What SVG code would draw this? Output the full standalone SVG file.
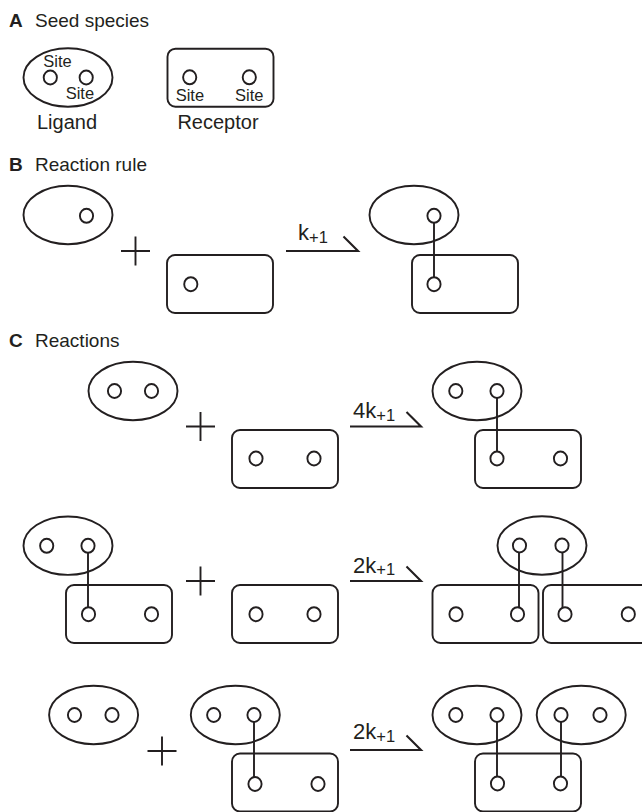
<svg xmlns="http://www.w3.org/2000/svg" width="642" height="812" viewBox="0 0 642 812">
<style>
  .shape { fill: none; stroke: #231f20; stroke-width: 1.9; }
  .site { fill: #ffffff; stroke: #231f20; stroke-width: 1.9; }
  .bond { fill: none; stroke: #231f20; stroke-width: 1.9; }
  .arrow { fill: none; stroke: #231f20; stroke-width: 2.1; }
  .plus { fill: none; stroke: #231f20; stroke-width: 1.9; }
  text { font-family: "Liberation Sans", Arial, sans-serif; fill: #231f20; }
  .hdr { font-size: 19px; }
  .hdrb { font-size: 19px; font-weight: bold; }
  .lbl { font-size: 20px; }
  .sitelbl { font-size: 16.5px; }
  .rate { font-size: 22px; }
  .sub { font-size: 16.5px; }
</style>
<defs>
  <ellipse id="lig" cx="0" cy="0" rx="44.5" ry="29.2" class="shape"/>
  <rect id="rec" x="0" y="0" width="106" height="58" rx="8" ry="8" class="shape"/>
  <ellipse id="s" cx="0" cy="0" rx="6.6" ry="7" class="site"/>
</defs>

<!-- Headers -->
<g id="header-A">
  <text x="9" y="26.7" class="hdrb">A</text>
  <text x="35" y="26.7" class="hdr">Seed species</text>
</g>
<g id="header-B">
  <text x="9" y="171" class="hdrb">B</text>
  <text x="35" y="171" class="hdr">Reaction rule</text>
</g>
<g id="header-C">
  <text x="9" y="347" class="hdrb">C</text>
  <text x="35" y="347" class="hdr">Reactions</text>
</g>

<!-- Section A -->
<g id="A-ligand">
  <use href="#lig" x="68" y="77.5"/>
  <use href="#s" x="50.3" y="77.5"/>
  <use href="#s" x="86.2" y="77.5"/>
  <text x="43.3" y="66.7" class="sitelbl">Site</text>
  <text x="65.7" y="99" class="sitelbl">Site</text>
  <text x="67" y="129" class="lbl" text-anchor="middle">Ligand</text>
</g>
<g id="A-receptor">
  <use href="#rec" x="167.5" y="48.7"/>
  <use href="#s" x="189.7" y="77.3"/>
  <use href="#s" x="249.3" y="77.3"/>
  <text x="175.7" y="101" class="sitelbl">Site</text>
  <text x="235" y="101" class="sitelbl">Site</text>
  <text x="218" y="129" class="lbl" text-anchor="middle">Receptor</text>
</g>

<!-- Section B -->
<g id="B-ligand">
  <use href="#lig" x="68" y="215"/>
  <use href="#s" x="86.5" y="215.8"/>
</g>
<g id="B-plus">
  <path class="plus" d="M121 251 H150 M135.5 236.5 V265.5"/>
</g>
<g id="B-receptor">
  <use href="#rec" x="167" y="255"/>
  <use href="#s" x="190.8" y="284.2"/>
</g>
<g id="B-complex">
  <use href="#lig" x="414" y="215"/>
  <use href="#rec" x="412" y="255"/>
</g>

<!-- Section C row 1 -->
<g id="C1-ligand">
  <use href="#lig" x="133" y="391"/>
  <use href="#s" x="114.5" y="391"/>
  <use href="#s" x="151.5" y="391"/>
</g>
<g id="C1-plus">
  <path class="plus" d="M186 426.5 H215 M200.5 412 V441"/>
</g>
<g id="C1-receptor">
  <use href="#rec" x="232" y="430"/>
  <use href="#s" x="256" y="458.5"/>
  <use href="#s" x="314" y="458.5"/>
</g>
<g id="C1-complex">
  <use href="#lig" x="477" y="391"/>
  <use href="#rec" x="475" y="430"/>
</g>

<!-- Section C row 2 -->
<g id="C2-complex">
  <use href="#lig" x="68" y="545.7"/>
  <use href="#rec" x="66" y="585"/>
</g>
<g id="C2-plus">
  <path class="plus" d="M186 581 H215 M200.5 566.5 V595.5"/>
</g>
<g id="C2-receptor">
  <use href="#rec" x="232" y="585"/>
  <use href="#s" x="256" y="614.2"/>
  <use href="#s" x="314" y="614.2"/>
</g>
<g id="C2-product">
  <use href="#lig" x="542" y="545.5"/>
  <use href="#rec" x="432.5" y="585"/>
  <use href="#rec" x="543" y="585"/>
</g>

<!-- Section C row 3 -->
<g id="C3-ligand">
  <use href="#lig" x="93.6" y="715"/>
  <use href="#s" x="74.5" y="715"/>
  <use href="#s" x="112" y="715"/>
</g>
<g id="C3-plus">
  <path class="plus" d="M147.5 751 H176.5 M162 736.5 V765.5"/>
</g>
<g id="C3-complex">
  <use href="#lig" x="235.3" y="715"/>
  <use href="#rec" x="232" y="753.5"/>
</g>
<g id="C3-product">
  <use href="#lig" x="477" y="715"/>
  <use href="#lig" x="581.2" y="715"/>
  <use href="#rec" x="475" y="753.5"/>
</g>

<!-- Connectors: reaction arrows and bonds -->
<g id="connectors">
  <!-- B -->
  <path class="arrow" d="M286 251 H358 L343.5 236.5"/>
  <text x="298" y="240" class="rate">k<tspan class="sub" dy="2.5">+1</tspan></text>
  <line class="bond" x1="434" y1="222.6" x2="434" y2="277.4"/>
  <!-- C1 -->
  <path class="arrow" d="M350 426.5 H421 L406.5 412"/>
  <text x="353" y="418.3" class="rate">4k<tspan class="sub" dy="2.5">+1</tspan></text>
  <line class="bond" x1="497" y1="397.8" x2="497" y2="451.7"/>
  <!-- C2 -->
  <line class="bond" x1="88" y1="552.6" x2="88" y2="607.4"/>
  <path class="arrow" d="M350 581 H421 L406.5 566.5"/>
  <text x="353" y="572.7" class="rate">2k<tspan class="sub" dy="2.5">+1</tspan></text>
  <line class="bond" x1="519" y1="552.3" x2="519" y2="607.4"/>
  <line class="bond" x1="562.5" y1="552.3" x2="562.5" y2="607.4"/>
  <!-- C3 -->
  <line class="bond" x1="254" y1="721.8" x2="254" y2="777.2"/>
  <path class="arrow" d="M350 750 H421 L406.5 735.5"/>
  <text x="353" y="739.3" class="rate">2k<tspan class="sub" dy="2.5">+1</tspan></text>
  <line class="bond" x1="497" y1="721.8" x2="497" y2="776.7"/>
  <line class="bond" x1="561" y1="721.8" x2="561" y2="776.7"/>
</g>

<!-- Sites of multi-site molecules and bonded sites, drawn above bonds -->
<g id="bonded-sites">
  <use href="#s" x="434" y="215.8"/>
  <use href="#s" x="434" y="284.2"/>
  <use href="#s" x="455.8" y="391"/>
  <use href="#s" x="497" y="391"/>
  <use href="#s" x="497" y="458.5"/>
  <use href="#s" x="560.5" y="458.5"/>
  <use href="#s" x="46.7" y="545.8"/>
  <use href="#s" x="88" y="545.8"/>
  <use href="#s" x="88.5" y="614.2"/>
  <use href="#s" x="151.5" y="614.2"/>
  <use href="#s" x="519.5" y="545.5"/>
  <use href="#s" x="562" y="545.5"/>
  <use href="#s" x="456" y="614.2"/>
  <use href="#s" x="517.5" y="614.2"/>
  <use href="#s" x="565" y="614.2"/>
  <use href="#s" x="628.3" y="614.2"/>
  <use href="#s" x="213.7" y="715"/>
  <use href="#s" x="254" y="715"/>
  <use href="#s" x="255" y="784"/>
  <use href="#s" x="318" y="784"/>
  <use href="#s" x="455.8" y="715"/>
  <use href="#s" x="497" y="715"/>
  <use href="#s" x="561" y="715"/>
  <use href="#s" x="600" y="715"/>
  <use href="#s" x="497.5" y="783.5"/>
  <use href="#s" x="560.5" y="783.5"/>
</g>
</svg>
